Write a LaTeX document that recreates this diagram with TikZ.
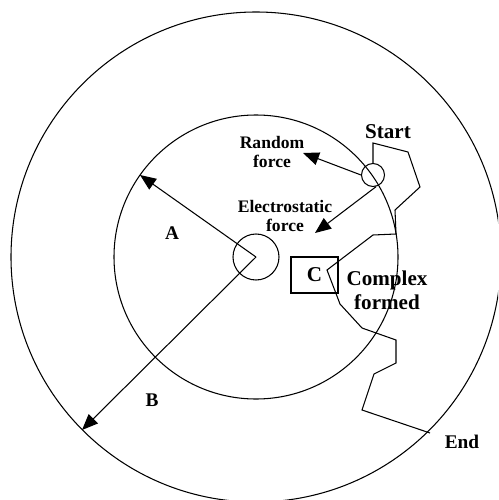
\documentclass[tikz,border=0pt]{standalone}
\usepackage{fontspec}
\setmainfont{Liberation Serif}
\usepackage{tikz}
\usetikzlibrary{arrows.meta}

\tikzset{
  biglbl/.style={font=\bfseries\fontsize{12}{13.6}\selectfont, inner sep=0pt, align=center},
  midlbl/.style={font=\bfseries\fontsize{11}{12}\selectfont, inner sep=0pt},
  smalllbl/.style={font=\bfseries\fontsize{10}{10.4}\selectfont, inner sep=0pt, align=center},
  forcearrow/.style={-{Triangle[length=3.2mm,width=2.6mm]}},
}

\begin{document}
\begin{tikzpicture}[x=0.2mm, y=-0.2mm, line width=0.6pt]
    \useasboundingbox (0,0) rectangle (498,500);
    \clip (0,0) rectangle (498,500);

    % shells round the protein
    \coordinate (o) at (256,257);
    \draw (o) circle (245);
    \draw (o) circle (142);
    \node[draw, circle, minimum size=9.2mm, inner sep=0pt] (core) at (o) {};

    % radii
    \coordinate (atip) at (140,175);
    \coordinate (btip) at (82,430);
    \draw[forcearrow] (o) -- (atip);
    \draw[forcearrow] (o) -- (btip);
    \node[midlbl] (alab) at (172,233) {A};
    \node[midlbl] (blab) at (152,400) {B};

    % ligand and forces
    \node[draw, circle, minimum size=4.6mm, inner sep=0pt] (st) at (373,175) {};
    \node[biglbl] (stlab) at (388,132) {Start};
    \coordinate (rtip) at (303,153);
    \coordinate (etip) at (315,233);
    \draw[forcearrow] (st.west) -- (rtip);
    \draw[forcearrow] (st.-75) -- (etip);
    \node[smalllbl] (rlab) at (272,152) {Random\\force};
    \node[smalllbl] (elab) at (285,216) {Electrostatic\\force};

    % complex
    \node[draw, rectangle, minimum width=9.4mm, minimum height=7.2mm, inner sep=0pt,
          font=\bfseries\fontsize{12}{13}\selectfont] (cbox) at (314.5,275) {C};
    \node[biglbl] (clab) at (387,290) {Complex\\formed};

    % diffusion path
    \coordinate (endpt) at (430,433);
    \draw (st.north) -- (373,143) -- (408,152) -- (420,187) -- (395,210) -- (396,234)
        -- (373,235) -- (327,270) -- (340,304) -- (362,328) -- (396,340) -- (396,363)
        -- (374,374) -- (362,410) -- (endpt);
    \node[midlbl] (endlab) at (462,442) {End};
\end{tikzpicture}
\end{document}
